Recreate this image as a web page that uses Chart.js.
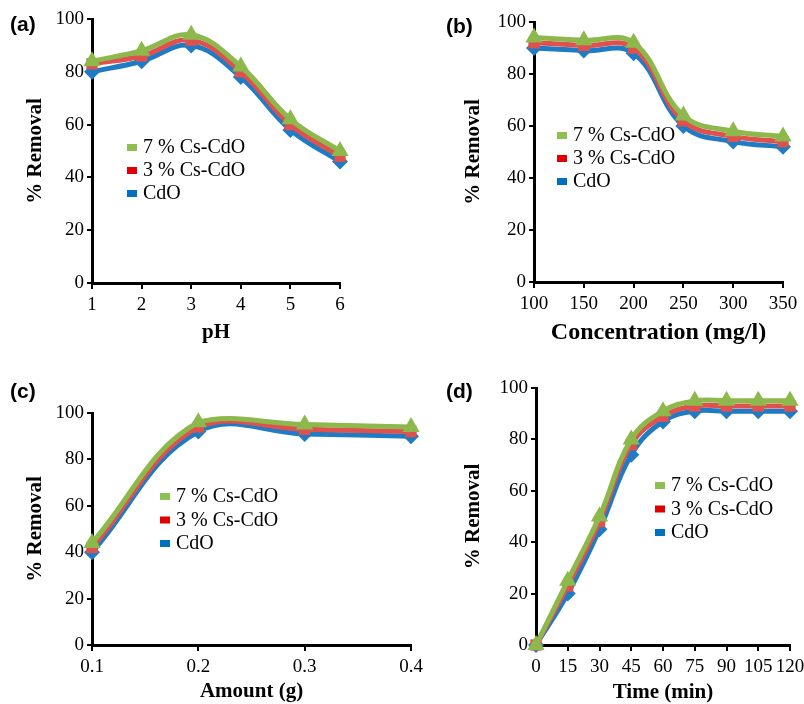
<!DOCTYPE html>
<html>
<head>
<meta charset="utf-8">
<script src="https://cdn.jsdelivr.net/npm/chart.js@4.4.0/dist/chart.umd.min.js"></script>
<style>
  html, body { margin: 0; padding: 0; background: #fff; }
  #wrap { position: relative; width: 804px; height: 704px; overflow: hidden; }
  canvas { position: absolute; }
  .tag { position: absolute; font: bold 21px "Liberation Sans", Arial, sans-serif; color: #000; }
</style>
</head>
<body>
<div id="wrap">
  <canvas id="chartA"></canvas>
  <canvas id="chartB"></canvas>
  <canvas id="chartC"></canvas>
  <canvas id="chartD"></canvas>
  <div class="tag" style="left:10px;top:12px">(a)</div>
  <div class="tag" style="left:446px;top:14px">(b)</div>
  <div class="tag" style="left:10px;top:379px">(c)</div>
  <div class="tag" style="left:446px;top:379px">(d)</div>
</div>
<script>
// series labels, top of the legend first
const seriesLabels = ["7 % Cs-CdO", "3 % Cs-CdO", "CdO"];

// (a) effect of pH
const phValues = [1, 2, 3, 4, 5, 6];
const phCs7 = [84, 88, 94, 82, 62, 50];
const phCs3 = [83, 86, 92, 80, 60, 48];
const phCdO = [80, 84, 90, 78, 58, 46];

// (b) effect of concentration
const concValues = [100, 150, 200, 250, 300, 350];
const concCs7 = [94, 93, 92, 64, 58, 56];
const concCs3 = [92, 91, 90, 62, 56, 54];
const concCdO = [90, 89, 88, 60, 54, 52];

// (c) effect of amount
const amountValues = [0.1, 0.2, 0.3, 0.4];
const amountCs7 = [44, 96, 95, 94];
const amountCs3 = [42, 94, 93, 92];
const amountCdO = [40, 92, 91, 90];

// (d) effect of time
const timeValues = [0, 15, 30, 45, 60, 75, 90, 105, 120];
const timeCs7 = [0, 25, 50, 80, 91, 95, 95, 95, 95];
const timeCs3 = [0, 23, 48, 78, 89, 93, 93, 93, 93];
const timeCdO = [0, 20, 45, 74, 87, 91, 91, 91, 91];

const yTicks = { min: 0, max: 100, step: 20 };

const COLORS = {
  green: "#8cb84c",
  red: "#e0514e",
  blue: "#1f7bc4",
  legendGreen: "#8dc050",
  legendRed: "#e00000",
  legendBlue: "#0070c0",
};

const SERIF = "'Liberation Serif', 'Times New Roman', serif";

function series(xs, ys) {
  return xs.map((x, i) => ({ x: x, y: ys[i] }));
}

// legend drawn inside the plot, like the original
const innerLegend = {
  id: "innerLegend",
  afterDraw(chart, args, opts) {
    const ctx = chart.ctx;
    const colors = [COLORS.legendGreen, COLORS.legendRed, COLORS.legendBlue];
    ctx.save();
    ctx.font = "20px " + SERIF;
    ctx.textBaseline = "middle";
    chart.data.datasets.forEach((ds, i) => {
      const y = opts.y + i * opts.gap;
      ctx.fillStyle = colors[i];
      ctx.fillRect(opts.x, y - 3, 10, 7);
      ctx.fillStyle = "#000";
      ctx.fillText(ds.label, opts.x + 16, y + 1);
    });
    ctx.restore();
  },
};

function makeChart(cfg) {
  const canvas = document.getElementById(cfg.id);
  canvas.width = cfg.w;
  canvas.height = cfg.h;
  canvas.style.left = cfg.x + "px";
  canvas.style.top = cfg.y + "px";
  canvas.style.width = cfg.w + "px";
  canvas.style.height = cfg.h + "px";

  const area = cfg.area;
  const yWidth = area.left - cfg.x;
  const xHeight = cfg.y + cfg.h - area.bottom;
  const xTitleSize = cfg.xTitleSize || 21;

  const styles = [
    { color: COLORS.green, point: "triangle", radius: 10 },
    { color: COLORS.red, point: "rect", radius: 8 },
    { color: COLORS.blue, point: "rectRot", radius: 8 },
  ];

  return new Chart(canvas, {
    type: "line",
    data: {
      datasets: cfg.series.map((ys, i) => ({
        label: seriesLabels[i],
        data: series(cfg.xs, ys),
        borderColor: styles[i].color,
        backgroundColor: styles[i].color,
        borderWidth: 5,
        tension: 0.4,
        pointStyle: styles[i].point,
        pointRadius: styles[i].radius,
        pointBorderWidth: 0,
        pointBackgroundColor: styles[i].color,
        clip: false,
      })),
    },
    options: {
      responsive: false,
      animation: false,
      devicePixelRatio: 1,
      layout: {
        padding: {
          left: 0,
          top: area.top - cfg.y,
          right: cfg.x + cfg.w - area.right,
          bottom: 0,
        },
      },
      plugins: {
        legend: { display: false },
        tooltip: { enabled: false },
        innerLegend: cfg.legend,
      },
      scales: {
        x: {
          type: "linear",
          min: cfg.xs[0],
          max: cfg.xs[cfg.xs.length - 1],
          afterFit: (scale) => { scale.height = xHeight; },
          afterBuildTicks: (scale) => {
            scale.ticks = cfg.xs.map((v) => ({ value: v }));
          },
          ticks: {
            font: { family: SERIF, size: 19 },
            color: "#000",
            padding: 5,
            maxRotation: 0,
            autoSkip: false,
            callback: (v) => String(Math.round(v * 10) / 10),
          },
          grid: {
            drawOnChartArea: false,
            drawTicks: true,
            tickLength: 6,
            color: "#000",
            lineWidth: 2,
          },
          border: { display: true, color: "#000", width: 3 },
          title: {
            display: true,
            text: cfg.xTitle,
            font: { family: SERIF, size: xTitleSize, weight: "bold" },
            color: "#000",
            padding: { top: 0, bottom: cfg.y + cfg.h - cfg.xTitleY - xTitleSize * 0.6 },
          },
        },
        y: {
          min: yTicks.min,
          max: yTicks.max,
          afterFit: (scale) => { scale.width = yWidth; },
          ticks: {
            stepSize: yTicks.step,
            font: { family: SERIF, size: 19 },
            color: "#000",
            padding: 3,
          },
          grid: {
            drawOnChartArea: false,
            drawTicks: true,
            tickLength: 5,
            color: "#000",
            lineWidth: 2,
          },
          border: { display: true, color: "#000", width: 3 },
          title: {
            display: true,
            text: "% Removal",
            font: { family: SERIF, size: 21, weight: "bold" },
            color: "#000",
            padding: { top: cfg.yTitleX - cfg.x - 12, bottom: 0 },
          },
        },
      },
    },
    plugins: [innerLegend],
  });
}

const panels = [
  {
    id: "chartA", x: 0, y: 0, w: 402, h: 352,
    area: { left: 92, top: 19, right: 340, bottom: 283 },
    yTitleX: 35, xTitleY: 333, xTitle: "pH",
    xs: phValues, series: [phCs7, phCs3, phCdO],
    legend: { x: 127, y: 147, gap: 23 },
  },
  {
    id: "chartB", x: 402, y: 0, w: 420, h: 352,
    area: { left: 534, top: 22, right: 783, bottom: 282 },
    yTitleX: 473, xTitleY: 333, xTitle: "Concentration (mg/l)", xTitleSize: 24,
    xs: concValues, series: [concCs7, concCs3, concCdO],
    legend: { x: 557, y: 135, gap: 23 },
  },
  {
    id: "chartC", x: 0, y: 352, w: 430, h: 352,
    area: { left: 92, top: 413, right: 411, bottom: 645 },
    yTitleX: 35, xTitleY: 692, xTitle: "Amount (g)",
    xs: amountValues, series: [amountCs7, amountCs3, amountCdO],
    legend: { x: 160, y: 496, gap: 23.5 },
  },
  {
    id: "chartD", x: 402, y: 352, w: 430, h: 352,
    area: { left: 536, top: 388, right: 790, bottom: 645 },
    yTitleX: 473, xTitleY: 693, xTitle: "Time (min)",
    xs: timeValues, series: [timeCs7, timeCs3, timeCdO],
    legend: { x: 655, y: 485, gap: 23.5 },
  },
];

// legend coordinates are given on the page; convert to canvas space
panels.forEach((p) => {
  p.legend = { x: p.legend.x - p.x, y: p.legend.y - p.y, gap: p.legend.gap };
  makeChart(p);
});
</script>
</body>
</html>
